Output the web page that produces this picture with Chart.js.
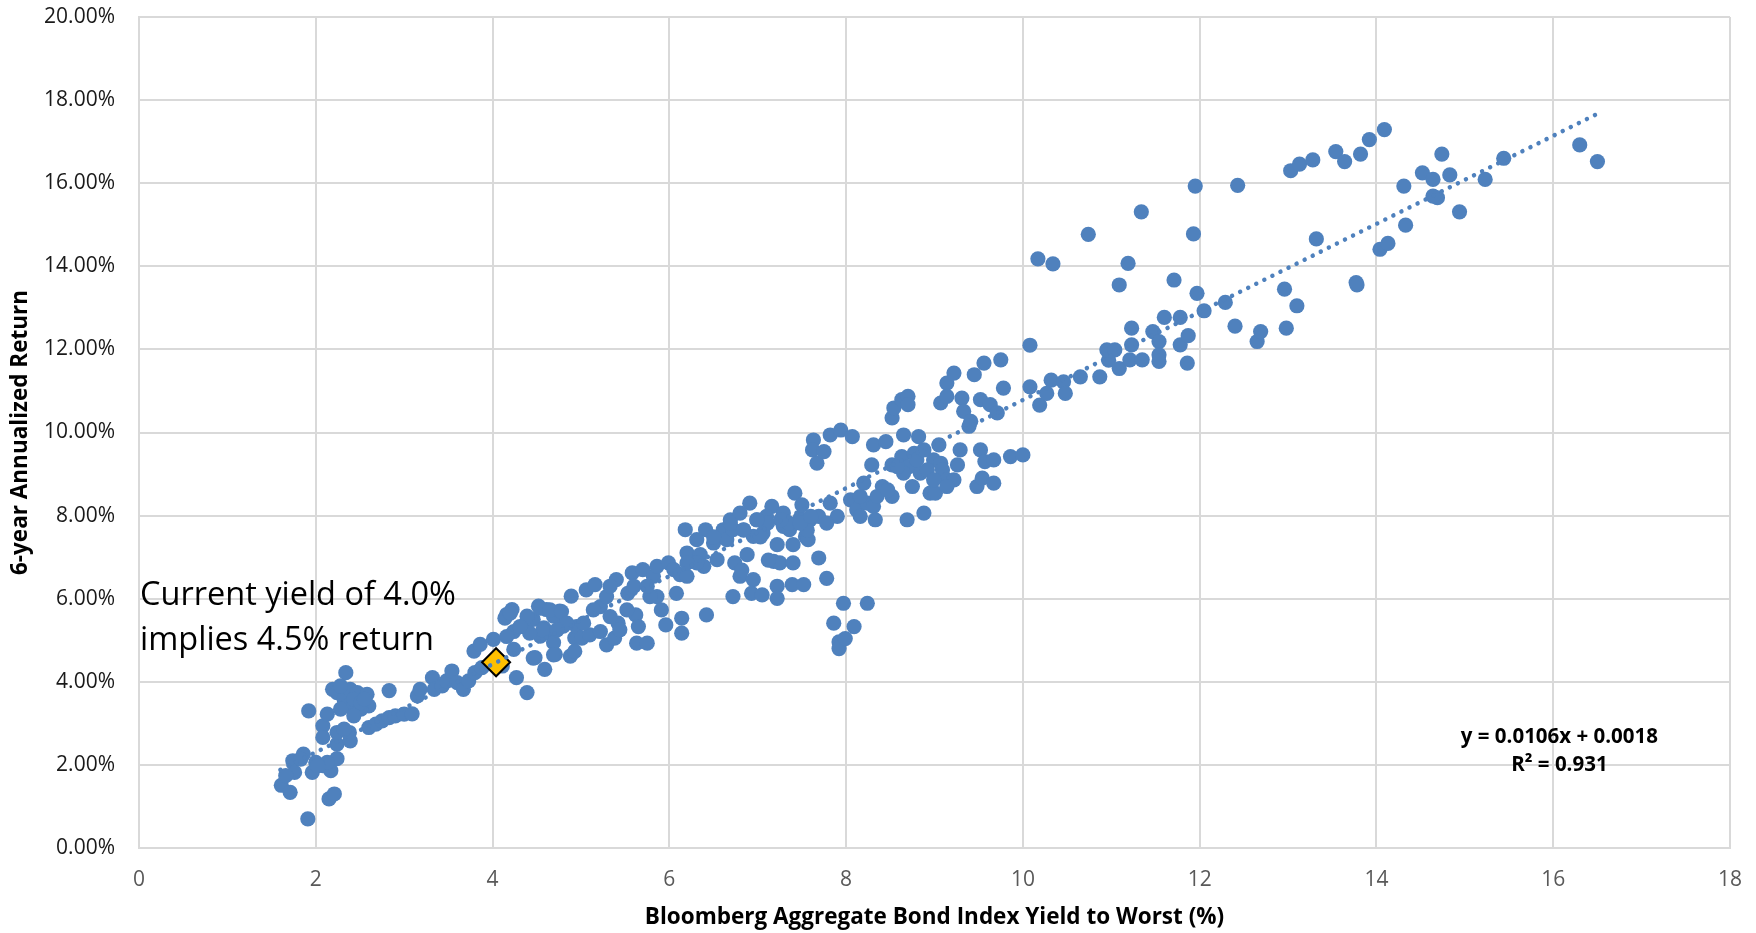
<!DOCTYPE html>
<html>
<head>
<meta charset="utf-8">
<script src="https://cdn.jsdelivr.net/npm/chart.js@4.4.1/dist/chart.umd.min.js"></script>
<style>
  html, body { margin: 0; padding: 0; background: #fff; }
</style>
</head>
<body>
<canvas id="chart" width="1756" height="933"></canvas>
<script>
// Bloomberg Agg yield to worst (%) vs. following 6-year annualized return (%)
const yieldX = [
  1.61,1.71,1.74,1.86,1.92,1.91,1.76,1.96,2.00,2.08,
  2.08,2.08,2.15,2.21,2.17,2.24,2.24,2.13,2.19,2.34,
  2.24,2.32,2.39,2.47,2.58,2.60,2.36,2.38,2.39,2.51,
  2.43,2.60,2.68,2.75,2.83,2.90,3.00,3.09,2.83,3.15,
  3.18,3.32,3.34,3.43,3.48,3.54,3.60,3.67,3.73,3.80,
  3.79,3.86,3.88,4.01,4.11,4.16,4.22,4.27,4.39,4.35,
  4.46,4.52,4.61,4.65,4.48,4.59,4.71,4.76,4.89,4.88,
  4.93,4.69,4.58,4.24,2.28,2.43,2.51,2.28,2.55,2.13,
  2.02,1.83,1.66,2.24,2.32,4.39,4.69,4.54,4.80,4.14,
  4.20,4.24,4.46,4.69,4.93,4.54,4.65,4.78,4.57,4.42,
  4.95,5.01,5.10,5.22,5.29,5.38,5.42,5.06,5.16,5.22,
  5.29,5.40,5.53,5.58,5.62,5.63,5.75,5.65,5.70,5.82,
  5.86,5.91,5.86,5.99,6.05,6.08,6.12,5.96,6.14,6.14,
  6.20,6.18,6.20,6.35,6.41,6.42,6.39,6.54,6.61,6.69,
  6.74,6.80,6.72,6.88,6.95,6.93,7.05,6.91,6.80,6.99,
  7.06,7.16,7.18,7.22,7.25,7.22,7.22,7.29,7.40,7.42,
  7.40,7.39,7.52,7.48,7.54,7.50,7.69,5.14,5.33,5.52,
  5.78,5.60,5.75,5.33,5.44,5.03,4.84,4.73,4.31,4.16,
  6.31,6.50,6.65,6.72,6.84,6.95,7.10,7.29,7.36,7.59,
  7.57,6.31,6.20,6.82,7.03,7.11,7.12,7.35,7.56,7.69,
  7.78,7.82,7.90,7.86,7.92,7.97,7.92,7.99,8.09,8.24,
  7.63,7.62,7.67,7.75,7.82,7.94,8.07,8.05,8.12,8.20,
  8.24,8.31,8.33,8.29,8.31,8.45,8.41,8.52,8.52,8.54,
  8.63,8.70,8.70,8.65,8.52,8.63,8.71,8.77,8.75,8.69,
  8.82,8.84,8.88,8.95,9.01,8.99,9.05,9.07,9.09,9.14,
  9.22,9.26,9.29,9.07,9.14,9.22,9.31,9.33,9.41,9.39,
  9.45,9.48,9.56,9.54,9.52,9.57,9.67,9.67,9.52,9.63,
  9.71,9.75,9.78,9.86,6.50,6.69,6.84,6.99,7.26,7.48,
  7.60,7.78,8.16,8.16,8.35,8.47,8.65,8.92,8.80,8.99,
  9.14,8.58,8.88,9.14,10.00,10.08,10.08,10.17,10.34,10.19,
  10.27,10.32,10.46,10.48,10.65,10.74,10.87,10.97,10.95,11.04,
  11.09,11.19,11.09,11.21,11.23,11.23,11.35,11.34,11.47,11.54,
  11.54,11.54,11.60,11.71,11.78,11.78,11.87,11.86,11.93,11.95,
  11.97,12.05,12.29,12.40,12.43,12.65,12.69,12.96,12.98,13.03,
  13.10,13.13,13.28,13.32,13.54,13.64,13.77,13.78,13.82,13.92,
  14.04,14.13,14.09,14.31,14.33,14.52,14.64,14.69,14.64,14.74,
  14.83,14.94,15.23,15.44,16.30,16.50
];
const returnY = [
  1.51,1.34,2.10,2.26,3.30,0.70,1.82,1.82,2.06,2.94,
  2.66,1.98,1.18,1.30,1.86,2.15,2.50,3.22,3.82,4.22,
  3.74,3.58,3.82,3.74,3.70,3.42,3.42,2.78,2.58,3.34,
  3.18,2.90,2.98,3.06,3.14,3.18,3.22,3.23,3.79,3.66,
  3.82,4.10,3.82,3.90,4.02,4.26,3.98,3.82,4.02,4.22,
  4.74,4.90,4.34,5.02,4.38,5.62,5.74,4.10,3.74,5.34,
  5.50,5.82,5.74,5.18,4.58,4.30,4.66,5.70,6.06,4.62,
  5.06,4.94,5.30,4.78,3.90,3.58,3.50,3.34,3.58,2.06,
  1.98,2.14,1.74,2.78,2.86,5.58,5.58,5.10,5.34,5.53,
  5.65,5.21,4.57,4.65,4.73,5.77,5.73,5.69,5.25,5.17,
  5.33,5.05,5.13,5.21,4.89,5.05,5.41,6.21,6.34,5.81,
  6.05,6.46,6.13,6.62,5.61,4.93,4.93,5.33,6.70,6.54,
  6.05,5.73,6.78,6.86,6.70,6.13,6.58,5.37,5.53,5.17,
  6.54,7.66,7.10,7.06,7.66,5.61,6.78,6.94,7.66,7.90,
  6.86,6.54,6.05,7.06,6.46,6.13,6.09,8.30,8.06,7.90,
  7.58,8.22,6.90,7.30,6.86,6.30,6.01,7.74,7.30,8.54,
  6.86,6.34,6.34,7.94,7.50,8.26,6.98,5.73,5.57,5.73,
  6.05,6.30,6.30,6.30,5.25,5.41,5.41,5.25,5.33,5.09,
  7.42,7.34,7.42,7.66,7.66,7.50,7.98,8.06,7.66,7.90,
  7.42,6.86,6.86,6.69,7.49,7.82,6.93,7.82,7.65,7.98,
  6.49,8.30,7.98,5.41,4.96,5.89,4.80,5.04,5.33,5.89,
  9.82,9.58,9.26,9.54,9.94,10.06,9.90,8.38,8.14,8.78,
  8.30,8.22,7.90,9.22,9.70,9.78,8.70,8.46,10.35,10.59,
  10.79,10.87,10.67,9.94,9.22,9.42,9.18,9.50,8.70,7.90,
  9.90,9.02,8.06,8.54,8.54,9.34,9.70,9.26,9.10,8.86,
  8.86,9.22,9.58,10.71,11.19,11.43,10.83,10.51,10.27,10.15,
  11.39,8.70,11.67,8.90,9.58,9.30,8.78,9.34,10.79,10.67,
  10.47,11.75,11.07,9.42,7.49,7.82,7.65,7.90,7.90,7.82,
  7.98,7.82,8.46,7.98,8.46,8.62,9.02,9.10,9.34,8.86,
  8.70,9.18,9.58,10.87,9.46,12.10,11.10,14.18,14.06,10.66,
  10.94,11.26,11.22,10.94,11.34,14.77,11.34,11.74,11.99,11.99,
  11.54,14.07,13.55,11.75,12.11,12.51,11.75,15.31,12.43,12.19,
  11.87,11.71,12.77,13.67,12.77,12.11,12.33,11.67,14.78,15.93,
  13.35,12.93,13.13,12.56,15.95,12.19,12.43,13.45,12.51,16.30,
  13.05,16.46,16.56,14.66,16.76,16.52,13.61,13.55,16.70,17.05,
  14.41,14.55,17.29,15.93,14.99,16.25,16.09,15.65,15.69,16.70,
  16.20,15.31,16.09,16.60,16.92,16.52
];

// current yield marker
const currentX = [4.04];
const currentY = [4.47];

// dotted linear trendline (end points)
const trendX = [1.60, 16.50];
const trendY = [1.88, 17.67];

const xTicks = [0, 2, 4, 6, 8, 10, 12, 14, 16, 18];
const yTicks = [0, 2, 4, 6, 8, 10, 12, 14, 16, 18, 20];

const noteLines = ['Current yield of 4.0%', 'implies 4.5% return'];
const eqLines = ['y = 0.0106x + 0.0018', 'R² = 0.931'];

const FONT = '"Open Sans", "Liberation Sans", sans-serif';
const BLUE = '#4F81BD';
const GRID = '#D9D9D9';

const toPoints = (xs, ys) => xs.map((v, i) => ({ x: v, y: ys[i] }));

// texts drawn on the plot (note on the left, regression equation on the right)
const chartText = {
  id: 'chartText',
  afterDatasetsDraw(chart) {
    const { ctx, scales: { x, y } } = chart;
    ctx.save();
    ctx.fillStyle = '#000';
    ctx.textBaseline = 'middle';

    ctx.font = '32.5px ' + FONT;
    ctx.textAlign = 'left';
    ctx.fillText(noteLines[0], x.left + 1, y.getPixelForValue(6.07));
    ctx.fillText(noteLines[1], x.left + 1, y.getPixelForValue(4.98));

    ctx.font = 'bold 20.5px ' + FONT;
    ctx.textAlign = 'center';
    const ex = x.getPixelForValue(16.07);
    ctx.fillText(eqLines[0], ex, y.getPixelForValue(2.67));
    ctx.fillText(eqLines[1], ex, y.getPixelForValue(1.99));
    ctx.restore();
  }
};

new Chart(document.getElementById('chart'), {
  type: 'scatter',
  data: {
    datasets: [
      {
        // trendline on top of everything
        type: 'line',
        order: 0,
        data: toPoints(trendX, trendY),
        borderColor: BLUE,
        borderWidth: 4.5,
        borderDash: [0.01, 9],
        borderCapStyle: 'round',
        pointRadius: 0,
        fill: false,
        tension: 0
      },
      {
        order: 1,
        data: toPoints(currentX, currentY),
        pointStyle: 'rectRot',
        pointRadius: 14,
        backgroundColor: '#FFC000',
        borderColor: '#000',
        borderWidth: 2
      },
      {
        order: 2,
        data: toPoints(yieldX, returnY),
        pointRadius: 7.6,
        backgroundColor: BLUE,
        borderColor: BLUE,
        borderWidth: 0
      }
    ]
  },
  options: {
    responsive: false,
    animation: false,
    events: [],
    layout: { padding: { left: 0, right: 26, top: 17, bottom: 0 } },
    plugins: {
      legend: { display: false },
      tooltip: { enabled: false }
    },
    scales: {
      x: {
        type: 'linear',
        min: 0,
        max: 18,
        afterBuildTicks: axis => { axis.ticks = xTicks.map(v => ({ value: v })); },
        afterFit: axis => { axis.height = 85; },
        // invisible tick marks give the label gap without inflating the chart padding
        grid: { color: GRID, lineWidth: 2, drawTicks: true, tickLength: 19, tickColor: 'rgba(0,0,0,0)' },
        border: { color: GRID, width: 2 },
        ticks: {
          color: '#595959',
          font: { family: FONT, size: 21 },
          padding: 0,
          maxRotation: 0
        },
        title: {
          display: true,
          text: 'Bloomberg Aggregate Bond Index Yield to Worst (%)',
          color: '#000',
          font: { family: FONT, size: 22.5, weight: 'bold' },
          padding: { top: 0, bottom: 2 }
        }
      },
      y: {
        type: 'linear',
        min: 0,
        max: 20,
        afterBuildTicks: axis => { axis.ticks = yTicks.map(v => ({ value: v })); },
        afterFit: axis => { axis.width = 139; },
        grid: { color: GRID, lineWidth: 2, drawTicks: true, tickLength: 24, tickColor: 'rgba(0,0,0,0)' },
        border: { color: GRID, width: 2 },
        ticks: {
          color: '#1a1a1a',
          font: { family: FONT, size: 21 },
          padding: 0,
          callback: v => v.toFixed(2) + '%'
        },
        title: {
          display: true,
          text: '6-year Annualized Return',
          color: '#000',
          font: { family: FONT, size: 22.5, weight: 'bold' },
          padding: { top: 7, bottom: 0 }
        }
      }
    }
  },
  plugins: [chartText]
});
</script>
</body>
</html>
